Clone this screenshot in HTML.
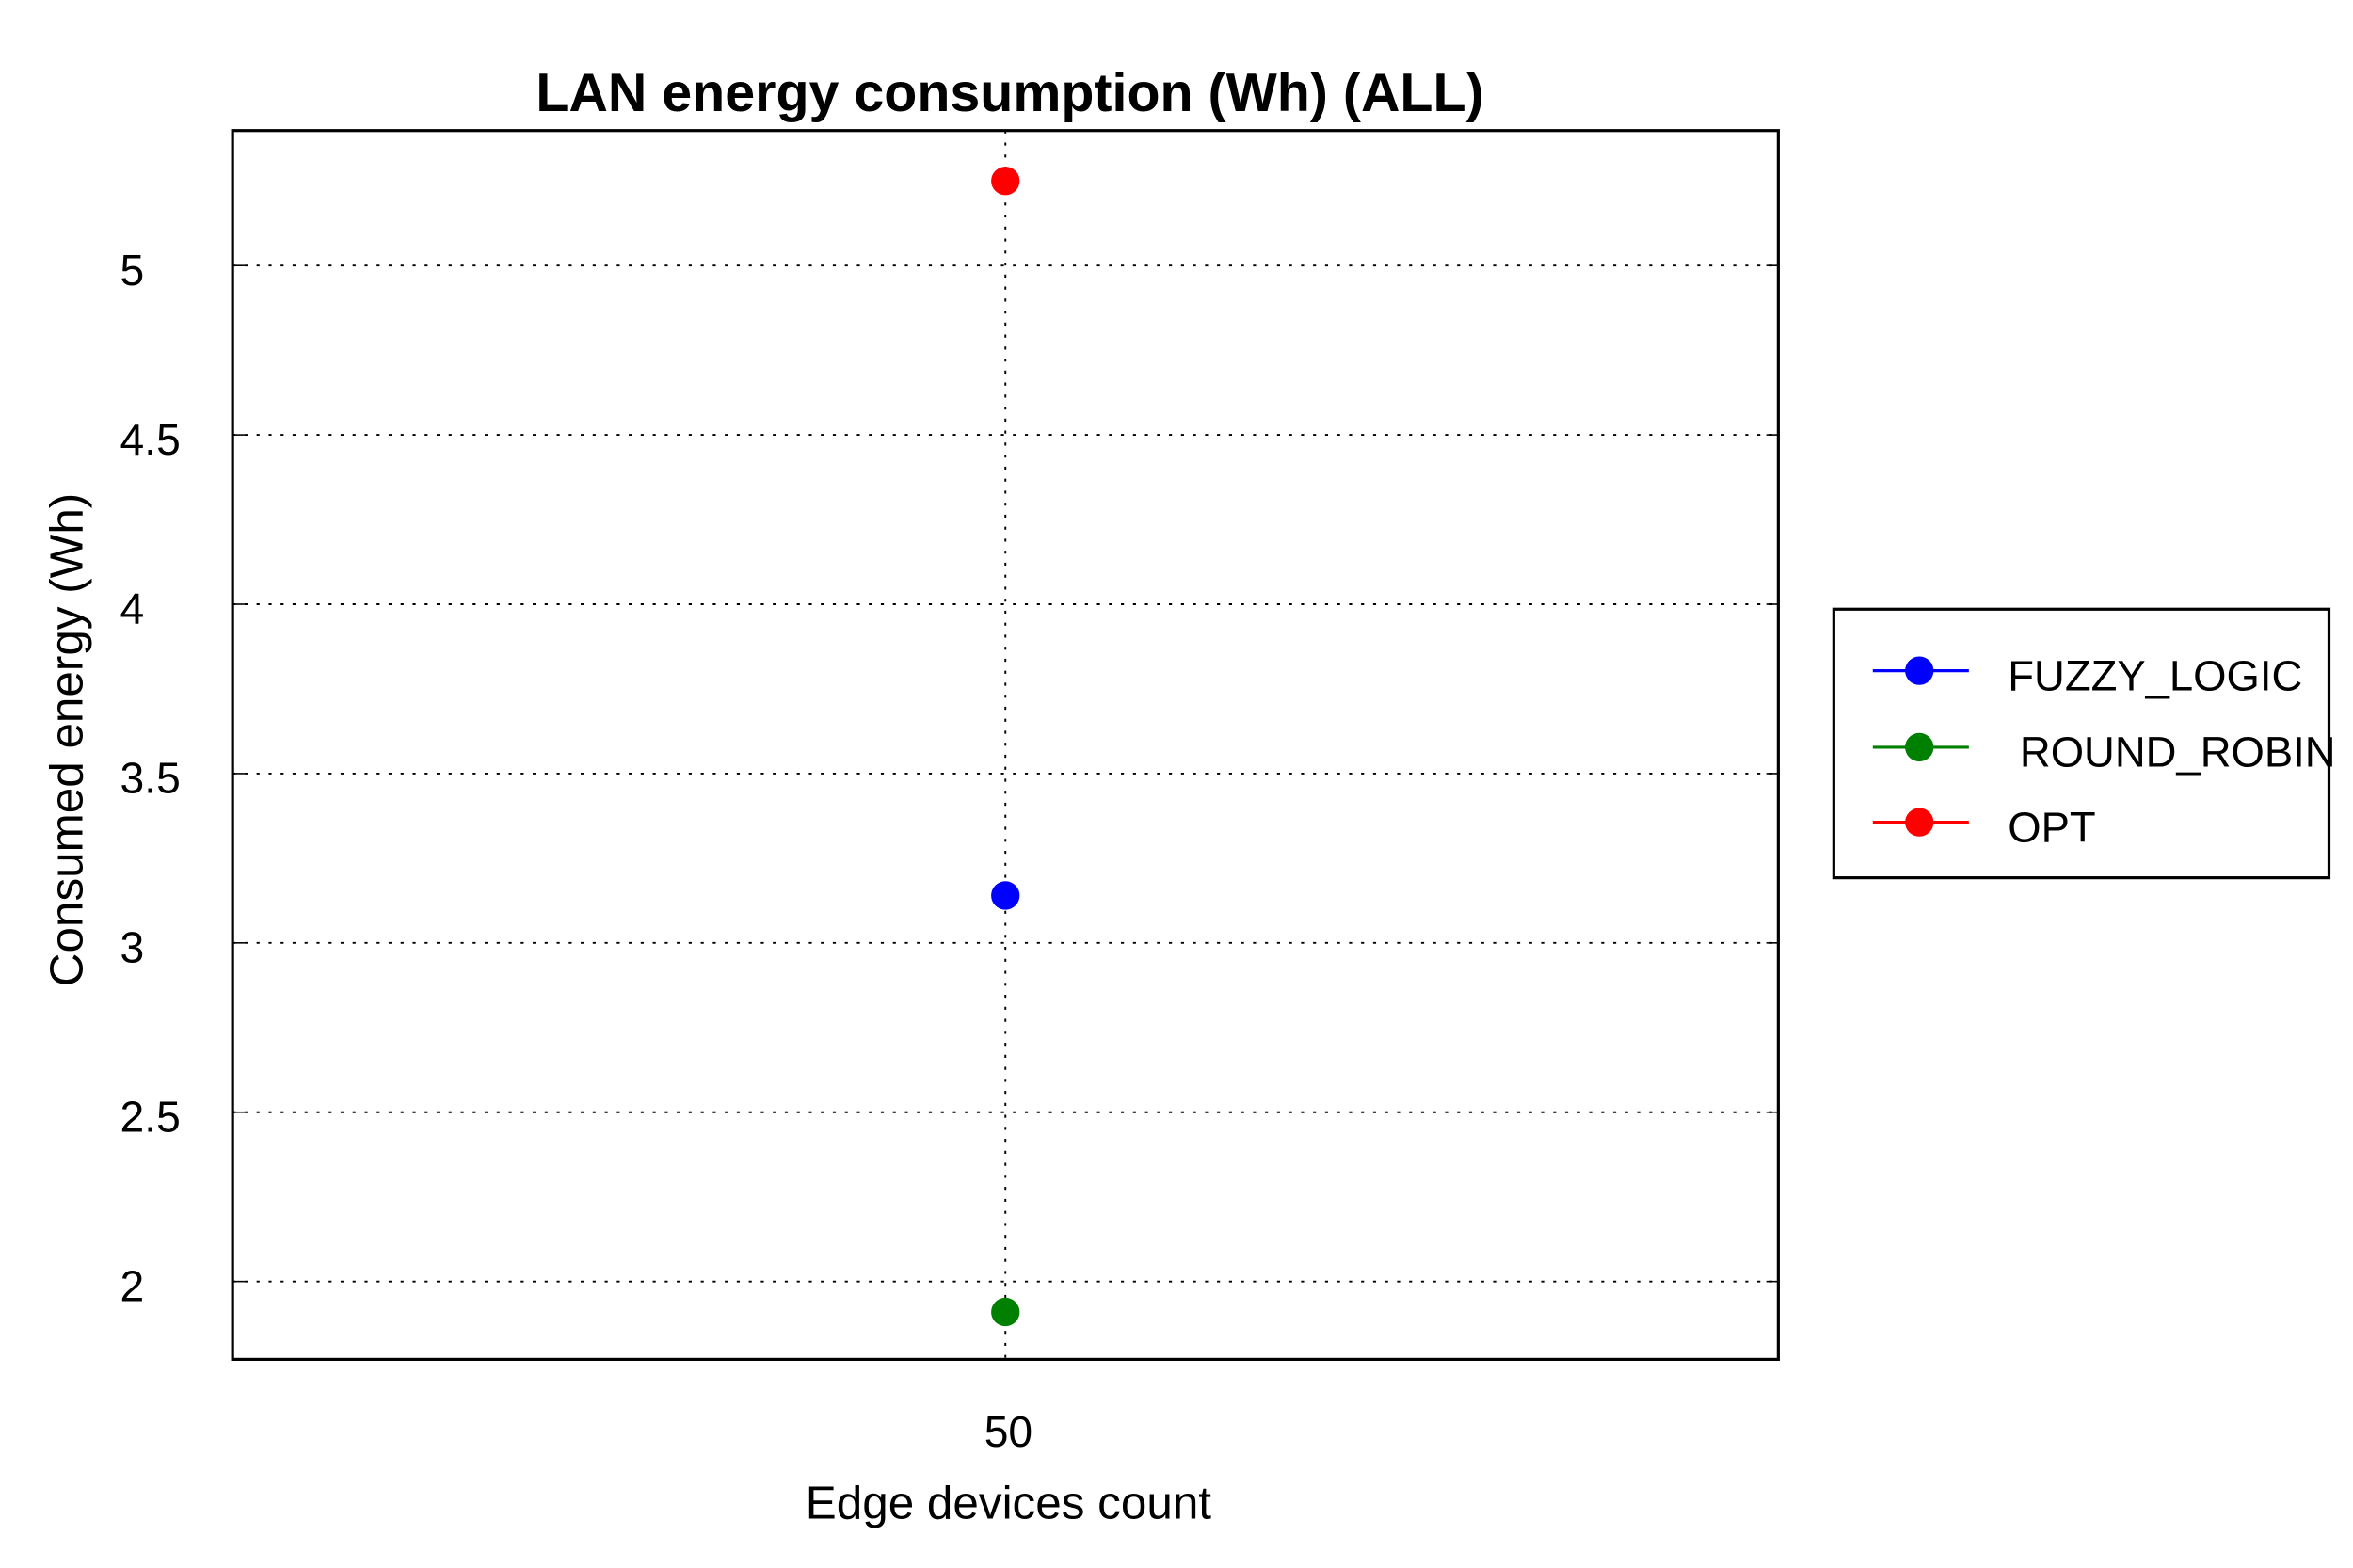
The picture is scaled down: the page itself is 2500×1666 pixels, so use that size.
<!DOCTYPE html>
<html><head><meta charset="utf-8"><style>html,body{margin:0;padding:0;background:#fff;overflow:hidden}svg{display:block}text{font-family:"Liberation Sans",Arial,sans-serif;fill:#000}</style></head>
<body>
<svg id="chart" width="2500" height="1666" viewBox="0 0 1568 1045" preserveAspectRatio="none" xmlns="http://www.w3.org/2000/svg">
<rect width="1568" height="1045" fill="#fff"/>
<text x="673" y="74" font-size="36" font-weight="bold" text-anchor="middle">LAN energy consumption (Wh) (ALL)</text>
<g id="grid"></g>
<g id="ticks"></g>
<rect x="155" y="87" width="1030" height="819" fill="none" stroke="#000" stroke-width="2"/>
<g id="marks"></g>
<text transform="translate(55,493) rotate(-90)" font-size="31" text-anchor="middle">Consumed energy (Wh)</text>
<text x="672" y="1012" font-size="31" text-anchor="middle">Edge devices count</text>
<g>
<rect x="1222" y="406" width="330" height="179" fill="#fff" stroke="#000" stroke-width="2"/>
<g id="legend-items"></g>
</g>
</svg>
<script>
const categories = [50];
const seriesNames = ["FUZZY_LOGIC", " ROUND_ROBIN", "OPT"];
const seriesColors = ["#0000ff", "#008000", "#ff0000"];
const seriesValues = [[3.14], [1.91], [5.25]];
const yTicks = [2, 2.5, 3, 3.5, 4, 4.5, 5];
const yTickLabels = ["2", "2.5", "3", "3.5", "4", "4.5", "5"];

const NS = "http://www.w3.org/2000/svg";
const plot = {x0:155, x1:1185, y0:87, y1:906};
function yScale(v){ return 177 + (5 - v) * 225.7; }
function xScale(i){ return plot.x0 + (plot.x1 - plot.x0) * (i + 1) / (categories.length + 1); }
function mk(tag, attrs, parent){ const e = document.createElementNS(NS, tag); for (const k in attrs) e.setAttribute(k, attrs[k]); parent.appendChild(e); return e; }

const grid = document.getElementById('grid');
const ticks = document.getElementById('ticks');
yTicks.forEach((t, i) => {
  const y = yScale(t);
  const g = mk('line', {x1:plot.x0, x2:plot.x1, y1:y, y2:y, stroke:'#000', 'stroke-width':1.2, 'stroke-dasharray':'2,6'}, grid);
  
  
  const tl = mk('text', {x:80, y:y + 13, 'font-size':29}, ticks);
  tl.textContent = yTickLabels[i];
  
  
  mk('line', {x1:plot.x0, x2:plot.x0 + 8, y1:y, y2:y, stroke:'#000'}, ticks);
  mk('line', {x1:plot.x1 - 8, x2:plot.x1, y1:y, y2:y, stroke:'#000'}, ticks);
});
categories.forEach((c, i) => {
  const x = xScale(i);
  const g = mk('line', {x1:x, x2:x, y1:plot.y0, y2:plot.y1, stroke:'#000', 'stroke-width':1.2, 'stroke-dasharray':'2,6'}, grid);
  
  
  const tl = mk('text', {x:x + 2, y:964, 'font-size':29, 'text-anchor':'middle'}, ticks);
  tl.textContent = String(c);
  
  
});

const marks = document.getElementById('marks');
seriesValues.forEach((vals, s) => {
  vals.forEach((v, i) => {
    const p = mk('circle', {cx:xScale(i), cy:yScale(v), r:9.5, fill:seriesColors[s]}, marks);
    
    
  });
});

const leg = document.getElementById('legend-items');
const legY = [447, 498, 548];
seriesNames.forEach((n, s) => {
  const g = mk('g', {}, leg);
  
  
  mk('line', {x1:1248, x2:1312, y1:legY[s], y2:legY[s], stroke:seriesColors[s], 'stroke-width':2}, g);
  mk('circle', {cx:1279, cy:legY[s], r:9.5, fill:seriesColors[s]}, g);
  const t = mk('text', {x:1338, y:legY[s] + 13, 'font-size':28.5, style:'white-space:pre'}, g);
  t.textContent = n;
});
</script>
</body></html>
